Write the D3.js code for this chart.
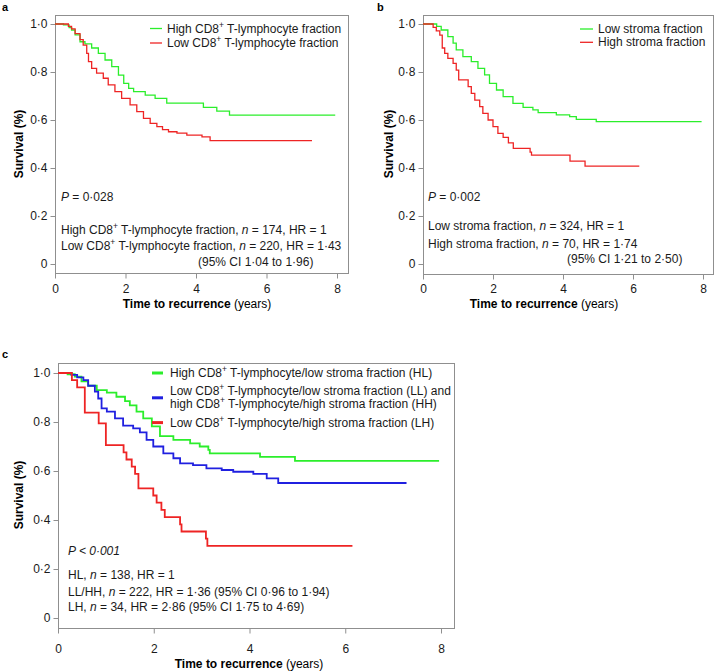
<!DOCTYPE html>
<meta charset="utf-8">
<html>
<head>
<script src="https://cdn.jsdelivr.net/npm/d3@7"></script>
<style>
  body { margin: 0; background: #fff; }
  svg { font-family: "Liberation Sans", Arial, sans-serif; }
</style>
</head>
<body>
<svg id="chart" width="714" height="671"></svg>
<script>
// ---- data: Kaplan-Meier steps [time (years), survival] ----
var aHigh = [[0,1],[0.24,0.996],[0.4,0.985],[0.47,0.975],[0.57,0.955],[0.71,0.926],[0.85,0.917],[1.04,0.9],
  [1.23,0.878],[1.42,0.85],[1.61,0.822],[1.8,0.787],[1.95,0.753],[2.09,0.732],[2.23,0.718],[2.56,0.704],
  [2.84,0.69],[3.17,0.67],[4.21,0.653],[4.59,0.637],[4.95,0.62],[7.95,0.62]];
var aLow = [[0,1],[0.38,0.99],[0.47,0.98],[0.57,0.96],[0.71,0.935],[0.8,0.912],[0.9,0.878],[0.95,0.843],
  [1.04,0.815],[1.18,0.795],[1.37,0.774],[1.51,0.746],[1.7,0.718],[1.89,0.69],[2.13,0.663],[2.32,0.635],
  [2.51,0.607],[2.7,0.586],[2.89,0.572],[3.05,0.56],[3.22,0.551],[3.46,0.545],[3.74,0.537],[4.17,0.53],
  [4.4,0.514],[7.29,0.514]];

var bLow = [[0,1],[0.39,0.99],[0.52,0.975],[0.71,0.947],[0.86,0.92],[0.95,0.892],[1.14,0.864],[1.38,0.843],
  [1.57,0.815],[1.76,0.788],[1.9,0.753],[2.1,0.725],[2.29,0.697],[2.57,0.669],[2.86,0.653],[3.14,0.642],
  [3.29,0.631],[3.81,0.621],[4.19,0.614],[4.38,0.603],[4.95,0.593],[7.96,0.593]];
var bHigh = [[0,1],[0.29,0.986],[0.38,0.971],[0.48,0.954],[0.55,0.9],[0.62,0.878],[0.71,0.857],[0.86,0.836],
  [0.95,0.808],[1.02,0.767],[1.29,0.739],[1.38,0.711],[1.48,0.683],[1.62,0.656],[1.71,0.628],[1.86,0.6],
  [2.0,0.572],[2.14,0.544],[2.29,0.528],[2.44,0.505],[2.58,0.482],[3.06,0.466],[3.1,0.454],[4.2,0.429],
  [4.63,0.408],[6.18,0.408]];

var cHL = [[0,1],[0.2,0.995],[0.35,0.985],[0.49,0.966],[0.63,0.948],[0.81,0.93],[1.02,0.92],[1.22,0.903],
  [1.4,0.885],[1.5,0.868],[1.64,0.842],[1.78,0.815],[1.96,0.782],[2.13,0.742],[2.41,0.727],[2.76,0.713],
  [2.96,0.7],[3.14,0.686],[3.17,0.672],[4.22,0.658],[4.95,0.641],[7.96,0.641]];
var cLLHH = [[0,1],[0.28,0.992],[0.4,0.982],[0.53,0.971],[0.63,0.948],[0.77,0.924],[0.84,0.896],[0.91,0.856],
  [1.02,0.842],[1.19,0.815],[1.36,0.785],[1.57,0.774],[1.71,0.758],[1.85,0.727],[1.99,0.7],[2.2,0.672],
  [2.41,0.652],[2.55,0.631],[2.82,0.624],[3.1,0.611],[3.42,0.604],[3.66,0.597],[4.08,0.588],[4.36,0.57],
  [4.6,0.551],[7.28,0.551]];
var cLH = [[0,1],[0.29,0.971],[0.4,0.941],[0.56,0.838],[0.85,0.794],[1.0,0.706],[1.37,0.676],[1.43,0.647],
  [1.54,0.618],[1.61,0.588],[1.68,0.529],[1.99,0.5],[2.06,0.471],[2.16,0.441],[2.23,0.412],[2.55,0.382],
  [2.58,0.353],[3.09,0.324],[3.12,0.294],[6.15,0.294]];

var xTicks = [0, 2, 4, 6, 8];
var yTicks = [0, 0.2, 0.4, 0.6, 0.8, 1.0];

var GREEN = "#2bee2b", RED = "#ee2424", BLUE = "#2020e0", FRAME = "#8f8f8f";

// text parts: [string, flags]  flags: i = italic, b = bold, s = superscript
var aLegend = [
  {color: GREEN, rows: [[["High CD8"],["+","s"],[" T-lymphocyte fraction"]]]},
  {color: RED,   rows: [[["Low CD8"],["+","s"],[" T-lymphocyte fraction"]]]}
];
var aNotes = [
  {x: 61,  y: 201, parts: [["P","i"],[" = 0\u00b7028"]]},
  {x: 61,  y: 233.5, parts: [["High CD8"],["+","s"],[" T-lymphocyte fraction, "],["n","i"],[" = 174, HR = 1"]]},
  {x: 61,  y: 250, parts: [["Low CD8"],["+","s"],[" T-lymphocyte fraction, "],["n","i"],[" = 220, HR = 1\u00b743"]]},
  {x: 198, y: 266, parts: [["(95% CI 1\u00b704 to 1\u00b796)"]]}
];
var bLegend = [
  {color: GREEN, rows: [[["Low stroma fraction"]]]},
  {color: RED,   rows: [[["High stroma fraction"]]]}
];
var bNotes = [
  {x: 428, y: 201, parts: [["P","i"],[" = 0\u00b7002"]]},
  {x: 428, y: 230, parts: [["Low stroma fraction, "],["n","i"],[" = 324, HR = 1"]]},
  {x: 428, y: 247.5, parts: [["High stroma fraction, "],["n","i"],[" = 70, HR = 1\u00b774"]]},
  {x: 567, y: 262.5, parts: [["(95% CI 1\u00b721 to 2\u00b750)"]]}
];
var cLegend = [
  {color: GREEN, rows: [[["High CD8"],["+","s"],[" T-lymphocyte/low stroma fraction (HL)"]]]},
  {color: BLUE,  rows: [[["Low CD8"],["+","s"],[" T-lymphocyte/low stroma fraction (LL) and"]],
                        [["high CD8"],["+","s"],[" T-lymphocyte/high stroma fraction (HH)"]]]},
  {color: RED,   rows: [[["Low CD8"],["+","s"],[" T-lymphocyte/high stroma fraction (LH)"]]]}
];
var cNotes = [
  {x: 68, y: 555, parts: [["P < 0\u00b7001","i"]]},
  {x: 68, y: 579, parts: [["HL, "],["n","i"],[" = 138, HR = 1"]]},
  {x: 68, y: 595.5, parts: [["LL/HH, "],["n","i"],[" = 222, HR = 1\u00b736 (95% CI 0\u00b796 to 1\u00b794)"]]},
  {x: 68, y: 610.5, parts: [["LH, "],["n","i"],[" = 34, HR = 2\u00b786 (95% CI 1\u00b775 to 4\u00b769)"]]}
];

var svg = d3.select("#chart");

function fmt(d) { return d === 0 ? "0" : d3.format(".1f")(d).replace(".", "\u00b7"); }

function richText(g, x, y, parts) {
  var t = g.append("text").attr("x", x).attr("y", y).style("font-size", "12px").attr("fill", "#1a1a1a");
  var up = 0;
  parts.forEach(function(p) {
    var f = p[1] || "";
    var s = t.append("tspan").text(p[0]);
    if (f.indexOf("i") >= 0) s.style("font-style", "italic");
    if (f.indexOf("b") >= 0) s.style("font-weight", "bold");
    if (f.indexOf("s") >= 0) { s.attr("dy", -5).style("font-size", "8.5px"); up = 5; }
    else if (up) { s.attr("dy", up); up = 0; }
  });
  return t;
}

function drawPanel(p) {
  var g = svg.append("g");
  var x = d3.scaleLinear().domain([0, 8]).range(p.xr);
  var y = d3.scaleLinear().domain([0, 1]).range(p.yr);
  var f = p.frame;

  g.append("rect")
    .attr("x", f[0] + 0.5).attr("y", f[1] + 0.5)
    .attr("width", f[2] - f[0]).attr("height", f[3] - f[1])
    .attr("fill", "none").attr("stroke", FRAME);

  var ya = g.append("g").attr("transform", "translate(" + (f[0] + 0.5) + ",0)")
    .call(d3.axisLeft(y).tickValues(yTicks).tickFormat(fmt).tickSize(5).tickPadding(3));
  var xa = g.append("g").attr("transform", "translate(0," + (f[3] + 0.5) + ")")
    .call(d3.axisBottom(x).tickValues(xTicks).tickSize(5).tickPadding(p.xpad));
  [ya, xa].forEach(function(a) {
    a.attr("font-family", null).attr("font-size", null);
    a.select(".domain").remove();
    a.selectAll("line").attr("stroke", FRAME);
    a.selectAll("text").style("font-size", "12px").attr("fill", "#1a1a1a");
  });

  var line = d3.line().x(function(d) { return x(d[0]); }).y(function(d) { return y(d[1]); })
    .curve(d3.curveStepAfter);
  p.series.forEach(function(s) {
    g.append("path").datum(s.data).attr("d", line)
      .attr("fill", "none").attr("stroke", s.color).attr("stroke-width", p.lw);
  });

  // legend
  var ly = p.legend.y;
  p.legend.items.forEach(function(it) {
    var n = it.rows.length;
    var mid = ly + (n - 1) * p.legend.rowH / 2;
    g.append("line").attr("x1", p.legend.x1).attr("x2", p.legend.x2)
      .attr("y1", mid).attr("y2", mid)
      .attr("stroke", it.color).attr("stroke-width", p.legend.lw);
    it.rows.forEach(function(r, i) {
      richText(g, p.legend.tx, ly + i * p.legend.rowH + 4, r);
    });
    ly += n * p.legend.rowH + p.legend.gap;
  });

  p.notes.forEach(function(n) { richText(g, n.x, n.y, n.parts); });

  g.append("text").attr("x", p.letter[1]).attr("y", p.letter[2])
    .style("font-size", "11px").style("font-weight", "bold").text(p.letter[0]);

  g.append("text")
    .attr("transform", "translate(" + p.ylab[0] + "," + p.ylab[1] + ") rotate(-90)")
    .attr("text-anchor", "middle").style("font-size", "12px").style("font-weight", "bold")
    .text("Survival (%)");

  var xt = g.append("text").attr("x", p.xlab[0]).attr("y", p.xlab[1])
    .attr("text-anchor", "middle").style("font-size", "12px");
  xt.append("tspan").style("font-weight", "bold").text("Time to recurrence");
  xt.append("tspan").text(" (years)");
}

drawPanel({
  frame: [55, 15, 348, 273], xr: [55, 337], yr: [264, 24], xpad: 6, lw: 1.3,
  series: [{data: aHigh, color: GREEN}, {data: aLow, color: RED}],
  legend: {x1: 150, x2: 162, tx: 167, y: 28.5, rowH: 14.5, gap: 0, lw: 1.3, items: aLegend},
  notes: aNotes, letter: ["a", 2, 11], ylab: [22.5, 144], xlab: [197, 308]
});
drawPanel({
  frame: [423, 15, 713, 274], xr: [423, 703], yr: [264, 24], xpad: 5, lw: 1.3,
  series: [{data: bLow, color: GREEN}, {data: bHigh, color: RED}],
  legend: {x1: 580, x2: 593, tx: 598, y: 29, rowH: 13.3, gap: 0, lw: 1.3, items: bLegend},
  notes: bNotes, letter: ["b", 377, 11], ylab: [393, 144], xlab: [544, 308]
});
drawPanel({
  frame: [58, 363, 454, 628], xr: [58, 441], yr: [618, 373], xpad: 11, lw: 1.8,
  series: [{data: cHL, color: GREEN}, {data: cLLHH, color: BLUE}, {data: cLH, color: RED}],
  legend: {x1: 152, x2: 163, tx: 170, y: 373, rowH: 13.2, gap: 5, lw: 3, items: cLegend},
  notes: cNotes, letter: ["c", 2, 358], ylab: [23, 495], xlab: [249, 668]
});
</script>
</body>
</html>
